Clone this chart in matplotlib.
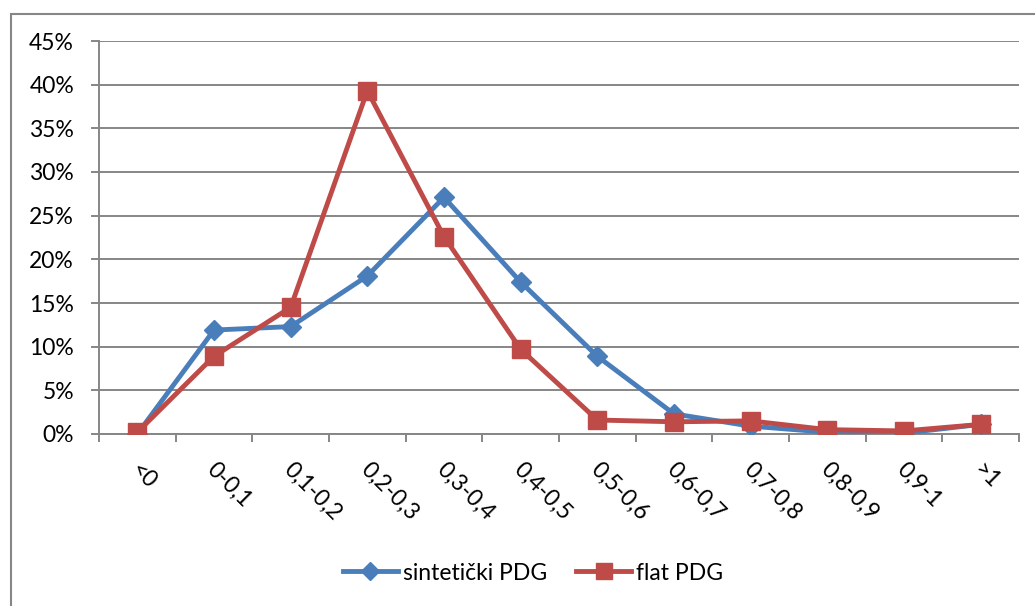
import matplotlib
matplotlib.use("Agg")
import matplotlib.pyplot as plt
from matplotlib.patches import Rectangle
from matplotlib.ticker import PercentFormatter, FixedLocator
from matplotlib.transforms import ScaledTranslation

plt.rcParams['font.family'] = ['Lato', 'DejaVu Sans']

categories = ["<0", "0-0,1", "0,1-0,2", "0,2-0,3", "0,3-0,4", "0,4-0,5",
              "0,5-0,6", "0,6-0,7", "0,7-0,8", "0,8-0,9", "0,9-1", ">1"]
sinteticki = [0.0, 11.9, 12.3, 18.1, 27.1, 17.4, 8.9, 2.3, 0.9, 0.2, 0.1, 1.1]
flat = [0.2, 8.9, 14.5, 39.3, 22.6, 9.7, 1.6, 1.4, 1.5, 0.5, 0.35, 1.1]
series_names = ["sintetički PDG", "flat PDG"]

W, H = 1035, 606
FS = 16.5
fig = plt.figure(figsize=(W / 100, H / 100), dpi=100)
ax = fig.add_axes([99 / W, 1 - 434 / H, (1019 - 99) / W, (434 - 41) / H])

grid_c = "#868686"
blue = "#4A7EBB"
red = "#BE4B48"

x = list(range(len(categories)))
ax.plot(x, sinteticki, color=blue, lw=3.5, marker="D", ms=10.5,
        markeredgecolor=blue, label=series_names[0], zorder=3,
        solid_joinstyle="round")
ax.plot(x, flat, color=red, lw=3.5, marker="s", ms=13.5,
        markeredgecolor=red, label=series_names[1], zorder=4,
        solid_joinstyle="round")

ax.set_xlim(-0.5, len(categories) - 0.5)
ax.set_ylim(0, 45)
ax.yaxis.set_major_locator(FixedLocator(range(0, 46, 5)))
ax.yaxis.set_major_formatter(PercentFormatter(decimals=0))
ax.grid(axis="y", color=grid_c, lw=1.4)
ax.set_axisbelow(True)

for s in ["top", "right"]:
    ax.spines[s].set_visible(False)
for s in ["left", "bottom"]:
    ax.spines[s].set_color(grid_c)
    ax.spines[s].set_linewidth(1.4)

ax.tick_params(axis="y", direction="out", length=6, width=1.4, color=grid_c,
               pad=12, labelsize=FS, labelcolor="black")

ax.set_xticks(x)
ax.set_xticklabels(categories)
ax.set_xticks([i - 0.5 for i in range(len(categories) + 1)], minor=True)
ax.tick_params(axis="x", which="major", length=0, pad=18, labelsize=FS)
ax.tick_params(axis="x", which="minor", direction="out", length=5.5,
               width=1.4, color=grid_c)
shift = ScaledTranslation(4 / 100, 0, fig.dpi_scale_trans)
for lbl in ax.get_xticklabels():
    lbl.set_rotation(-45)
    lbl.set_rotation_mode("anchor")
    lbl.set_ha("left")
    lbl.set_va("top")
    lbl.set_transform(lbl.get_transform() + shift)

fig.legend(loc="center", bbox_to_anchor=(533 / W, 1 - 573 / H), ncol=2,
           frameon=False, fontsize=FS, handlelength=2.4,
           handletextpad=0.2, columnspacing=1.3, markerscale=0.85)

fig.patches.append(Rectangle((10.5 / W, -0.1), 1.2, 1 - 13.5 / H + 0.1,
                             transform=fig.transFigure, fill=False,
                             edgecolor=grid_c, lw=1.5))

fig.savefig("out.png", dpi=100)
